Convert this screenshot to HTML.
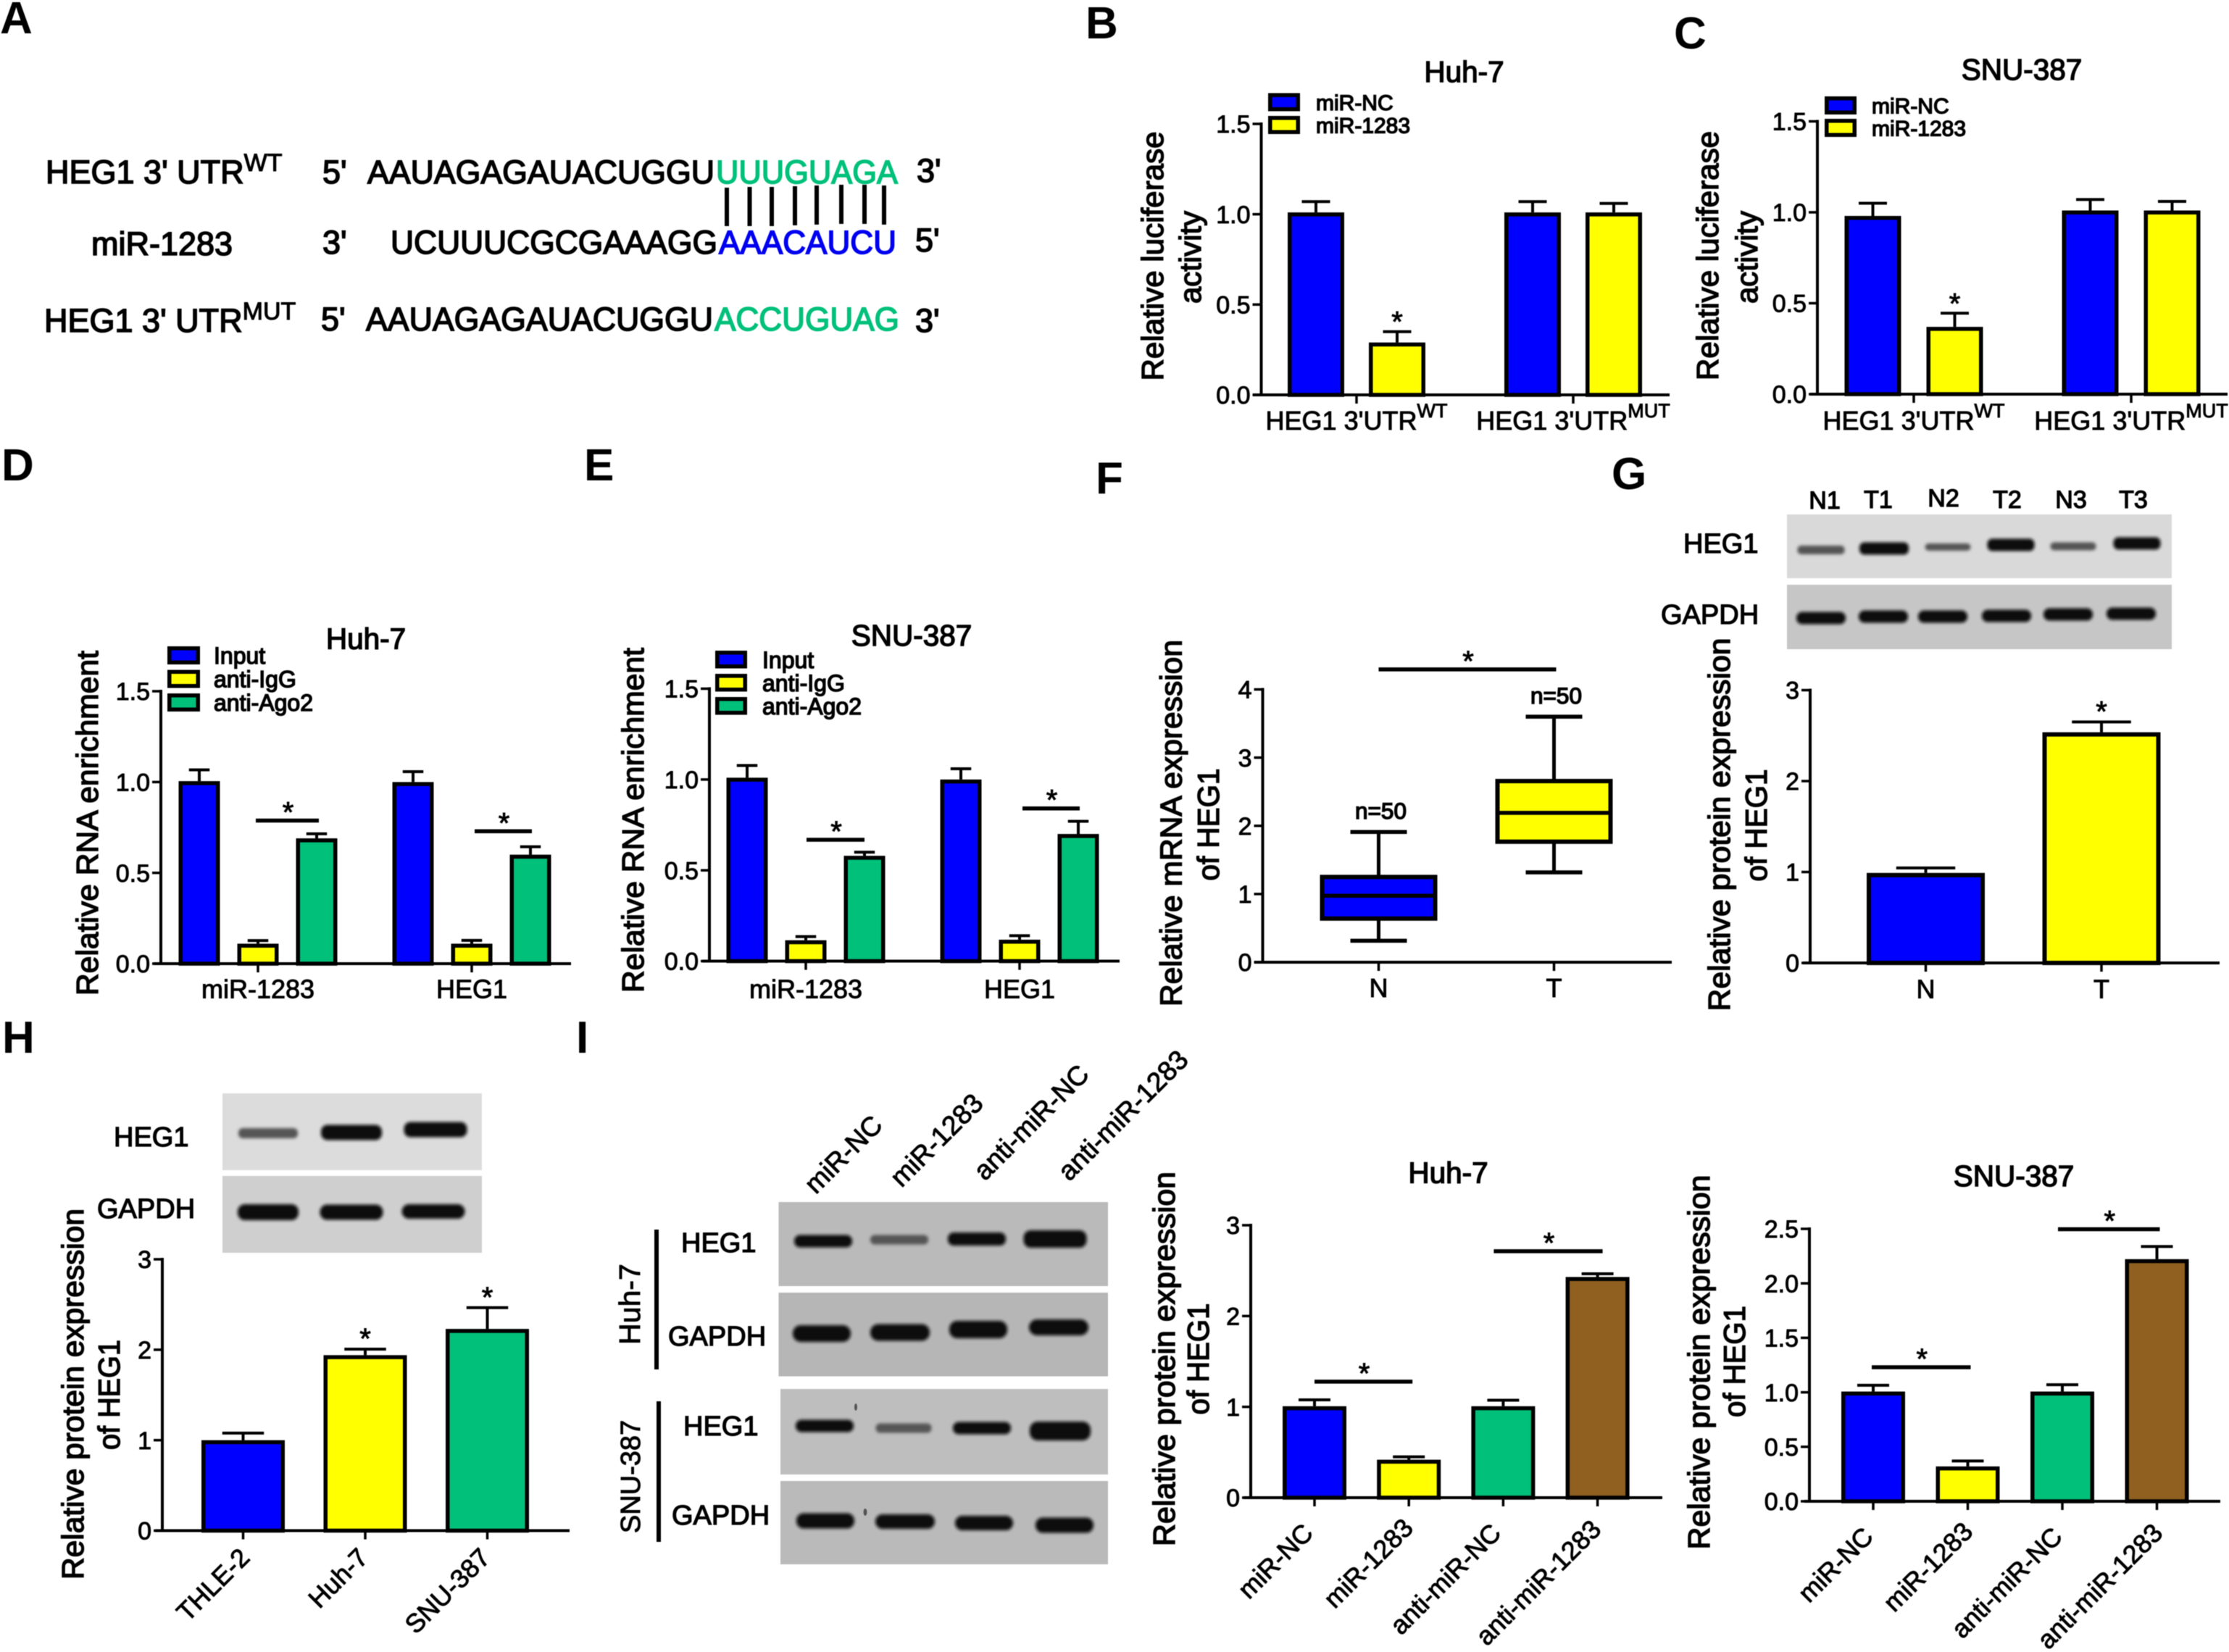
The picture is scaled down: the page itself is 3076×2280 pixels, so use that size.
<!DOCTYPE html>
<html lang="en">
<head>
<meta charset="utf-8">
<title>HEG1 and miR-1283 multi-panel figure</title>
<style>
html,body{margin:0;padding:0;background:#fff}
svg{display:block;filter:blur(.45px)}
text{font-family:"Liberation Sans",Arial,sans-serif;font-weight:normal;fill:#000;stroke:#000;stroke-width:.95px}
.b{fill:#0a0a0a;stroke:#0a0a0a;stroke-width:2px;filter:url(#bandblur)}
.l{fill:#555;stroke:#555;stroke-width:2px;filter:url(#bandblur)}
.letter{font-size:62px;font-weight:bold;stroke:none}
.seq{font-size:45px;stroke-width:1.6px}
.sup{font-size:34px;stroke-width:1.1px}
.blotlab{font-size:38px;stroke-width:1.3px}
.lane{font-size:34px;stroke-width:1.3px}
</style>
</head>
<body>
<svg id="figure" xmlns="http://www.w3.org/2000/svg" width="3076" height="2280" viewBox="0 0 3076 2280">
<defs>
<filter id="bandblur" x="-30%" y="-150%" width="160%" height="400%"><feGaussianBlur stdDeviation="2.2"/></filter>
</defs>
<rect width="3076" height="2280" fill="#fff"/>

<text class="letter" x="0" y="46">A</text>
<text class="letter" x="1498" y="53">B</text>
<text class="letter" x="2310" y="67">C</text>
<text class="letter" x="2" y="663">D</text>
<text class="letter" x="806" y="663">E</text>
<text class="letter" x="1512" y="681">F</text>
<text class="letter" x="2224" y="675">G</text>
<text class="letter" x="3" y="1453">H</text>
<text class="letter" x="795" y="1453">I</text>

<g>
<text class="seq" x="63" y="253">HEG1 3' UTR<tspan class="sup" dy="-17">WT</tspan></text>
<text class="seq" x="445" y="253">5'</text>
<text class="seq" x="507" y="253" textLength="479" lengthAdjust="spacingAndGlyphs">AAUAGAGAUACUGGU</text>
<text class="seq" x="988" y="253" textLength="251" lengthAdjust="spacingAndGlyphs" style="fill:#00c07a;stroke:#00c07a">UUUGUAGA</text>
<text class="seq" x="1265" y="251">3'</text>
<g stroke="#000" stroke-width="6">
<line x1="1003" y1="259" x2="1003" y2="312"/>
<line x1="1034.5" y1="258" x2="1034.5" y2="312"/>
<line x1="1065" y1="258" x2="1065" y2="312"/>
<line x1="1097" y1="257" x2="1097" y2="311"/>
<line x1="1127" y1="256" x2="1127" y2="310"/>
<line x1="1161" y1="255" x2="1161" y2="309"/>
<line x1="1193" y1="255" x2="1193" y2="309"/>
<line x1="1220" y1="256" x2="1220" y2="310"/>
</g>
<text class="seq" x="126" y="352">miR-1283</text>
<text class="seq" x="445" y="350">3'</text>
<text class="seq" x="539" y="350" textLength="451" lengthAdjust="spacingAndGlyphs">UCUUUCGCGAAAGG</text>
<text class="seq" x="992" y="350" textLength="245" lengthAdjust="spacingAndGlyphs" style="fill:#0000f0;stroke:#0000f0">AAACAUCU</text>
<text class="seq" x="1263" y="347">5'</text>
<text class="seq" x="61" y="458">HEG1 3' UTR<tspan class="sup" dy="-17">MUT</tspan></text>
<text class="seq" x="443" y="456">5'</text>
<text class="seq" x="505" y="456" textLength="479" lengthAdjust="spacingAndGlyphs">AAUAGAGAUACUGGU</text>
<text class="seq" x="986" y="456" textLength="255" lengthAdjust="spacingAndGlyphs" style="fill:#00c07a;stroke:#00c07a">ACCUGUAG</text>
<text class="seq" x="1263" y="458">3'</text>
</g>

<g>
<rect x="2466" y="710" width="531" height="88" fill="#d9d9d9"/>
<rect x="2466" y="807" width="531" height="89" fill="#c6c6c6"/>
<rect class="l" x="2481.5" y="754" width="63" height="10" rx="4"/>
<rect class="b" x="2567" y="749.5" width="66" height="15" rx="6"/>
<rect class="l" x="2657.5" y="751" width="61" height="8" rx="4"/>
<rect class="b" x="2743.5" y="744.5" width="63" height="15" rx="6"/>
<rect class="l" x="2830.5" y="749.5" width="61" height="9" rx="4"/>
<rect class="b" x="2917.5" y="742.5" width="63" height="15" rx="6"/>
<rect class="b" x="2480" y="845.5" width="66" height="15" rx="7"/>
<rect class="b" x="2566" y="843.5" width="66" height="15" rx="7"/>
<rect class="b" x="2648" y="843.5" width="66" height="15" rx="7"/>
<rect class="b" x="2736" y="842.5" width="66" height="15" rx="7"/>
<rect class="b" x="2821" y="840.5" width="66" height="15" rx="7"/>
<rect class="b" x="2908" y="839.5" width="66" height="15" rx="7"/>
<text class="lane" x="2518" y="702" text-anchor="middle">N1</text>
<text class="lane" x="2592" y="701" text-anchor="middle">T1</text>
<text class="lane" x="2682" y="699" text-anchor="middle">N2</text>
<text class="lane" x="2770" y="701" text-anchor="middle">T2</text>
<text class="lane" x="2858" y="701" text-anchor="middle">N3</text>
<text class="lane" x="2944" y="701" text-anchor="middle">T3</text>
<text class="blotlab" x="2323" y="763">HEG1</text>
<text class="blotlab" x="2292" y="861">GAPDH</text>
</g>

<g>
<rect x="307" y="1509" width="358" height="106" fill="#dcdcdc"/>
<rect x="307" y="1623" width="358" height="106" fill="#cfcfcf"/>
<rect class="l" x="330" y="1558" width="80" height="12" rx="5"/>
<rect class="b" x="444" y="1553.5" width="82" height="19" rx="8"/>
<rect class="b" x="558.5" y="1549.5" width="85" height="19" rx="8"/>
<rect class="b" x="329" y="1663" width="82" height="20" rx="9"/>
<rect class="b" x="442.5" y="1663.5" width="85" height="19" rx="9"/>
<rect class="b" x="555.5" y="1663" width="85" height="18" rx="9"/>
<text class="blotlab" x="157" y="1582">HEG1</text>
<text class="blotlab" x="134" y="1681">GAPDH</text>
</g>

<g>
<rect x="1074.5" y="1659" width="454.5" height="116" fill="#bababa"/>
<rect x="1074.5" y="1784" width="454.5" height="115.5" fill="#b6b6b6"/>
<rect x="1077" y="1917" width="452" height="118" fill="#bebebe"/>
<rect x="1077" y="2044" width="452" height="115" fill="#bababa"/>
<ellipse cx="1181" cy="1942" rx="2" ry="5" fill="#555"/>
<ellipse cx="1194" cy="2087" rx="2.5" ry="5" fill="#555"/>
<rect class="b" x="1097" y="1705.5" width="78" height="15" rx="7"/>
<rect class="l" x="1202" y="1705.5" width="78" height="11" rx="5"/>
<rect class="b" x="1309" y="1702" width="78" height="16" rx="7"/>
<rect class="b" x="1413.5" y="1699" width="85" height="22" rx="9"/>
<rect class="b" x="1095" y="1830" width="78" height="21" rx="10"/>
<rect class="b" x="1202" y="1828.5" width="80" height="21" rx="10"/>
<rect class="b" x="1311" y="1824" width="78" height="22" rx="10"/>
<rect class="b" x="1421" y="1822" width="80" height="20" rx="10"/>
<rect class="b" x="1099" y="1960.5" width="78" height="15" rx="7"/>
<rect class="l" x="1209.5" y="1965.5" width="75" height="11" rx="5"/>
<rect class="b" x="1316" y="1963.5" width="78" height="15" rx="7"/>
<rect class="b" x="1422" y="1963" width="82" height="24" rx="10"/>
<rect class="b" x="1100" y="2089.5" width="78" height="19" rx="9"/>
<rect class="b" x="1209" y="2091" width="80" height="18" rx="9"/>
<rect class="b" x="1319" y="2093" width="78" height="18" rx="9"/>
<rect class="b" x="1430" y="2095.5" width="78" height="19" rx="9"/>
<text class="blotlab" x="940" y="1728">HEG1</text>
<text class="blotlab" x="922" y="1857">GAPDH</text>
<text class="blotlab" x="943" y="1981">HEG1</text>
<text class="blotlab" x="927" y="2104">GAPDH</text>
<line x1="906" y1="1697" x2="906" y2="1890" stroke="#000" stroke-width="6"/>
<line x1="909" y1="1934" x2="909" y2="2128" stroke="#000" stroke-width="6"/>
<text transform="rotate(-90 883 1800)" x="883" y="1800" font-size="41" text-anchor="middle">Huh-7</text>
<text transform="rotate(-90 883 2038)" x="883" y="2038" font-size="38" text-anchor="middle">SNU-387</text>
<text transform="rotate(-45 1220 1555)" x="1220" y="1555" font-size="37.5" text-anchor="end">miR-NC</text>
<text transform="rotate(-45 1359 1525)" x="1359" y="1525" font-size="37.5" text-anchor="end">miR-1283</text>
<text transform="rotate(-45 1505 1485)" x="1505" y="1485" font-size="37.5" text-anchor="end">anti-miR-NC</text>
<text transform="rotate(-45 1642 1465)" x="1642" y="1465" font-size="37.5" text-anchor="end">anti-miR-1283</text>
</g>

<script>
// ---------- Panel B ----------
const panelBYTicks = ['0.0', '0.5', '1.0', '1.5'];
const panelBGroups = ["HEG1 3'UTR", "HEG1 3'UTR"];
const panelBGroupSup = ['WT', 'MUT'];
const panelBSeries = ['miR-NC', 'miR-1283'];
const panelBValues = [1.01, 0.29, 1.01, 1.01];
const panelBErrors = [0.06, 0.06, 0.06, 0.05];
const panelBStars = [1];
// ---------- Panel C ----------
const panelCYTicks = ['0.0', '0.5', '1.0', '1.5'];
const panelCGroups = ["HEG1 3'UTR", "HEG1 3'UTR"];
const panelCGroupSup = ['WT', 'MUT'];
const panelCSeries = ['miR-NC', 'miR-1283'];
const panelCValues = [0.98, 0.37, 1.01, 1.01];
const panelCErrors = [0.07, 0.075, 0.06, 0.05];
const panelCStars = [1];
// ---------- Panel D ----------
const panelDYTicks = ['0.0', '0.5', '1.0', '1.5'];
const panelDGroups = ['miR-1283', 'HEG1'];
const panelDSeries = ['Input', 'anti-IgG', 'anti-Ago2'];
const panelDValues = [1.005, 0.11, 0.69, 1.0, 0.11, 0.6];
const panelDErrors = [0.062, 0.017, 0.025, 0.057, 0.018, 0.044];
const panelDSigLevels = [0.788, 0.729];
// ---------- Panel E ----------
const panelEYTicks = ['0.0', '0.5', '1.0', '1.5'];
const panelEGroups = ['miR-1283', 'HEG1'];
const panelESeries = ['Input', 'anti-IgG', 'anti-Ago2'];
const panelEValues = [1.01, 0.115, 0.58, 1.0, 0.118, 0.7];
const panelEErrors = [0.067, 0.02, 0.02, 0.059, 0.022, 0.07];
const panelESigLevels = [0.668, 0.841];
// ---------- Panel F ----------
const panelFYTicks = ['0', '1', '2', '3', '4'];
const panelFCategories = ['N', 'T'];
const panelFMin = [0.315, 1.317];
const panelFQ1 = [0.64, 1.767];
const panelFMedian = [0.975, 2.19];
const panelFQ3 = [1.25, 2.656];
const panelFMax = [1.91, 3.6];
const panelFCounts = ['n=50', 'n=50'];
const panelFSigLevels = [4.293];
// ---------- Panel G ----------
const panelGYTicks = ['0', '1', '2', '3'];
const panelGCategories = ['N', 'T'];
const panelGValues = [0.99, 2.537];
const panelGErrors = [0.055, 0.113];
const panelGStars = [1];
// ---------- Panel H ----------
const panelHYTicks = ['0', '1', '2', '3'];
const panelHCategories = ['THLE-2', 'Huh-7', 'SNU-387'];
const panelHValues = [1.0, 1.94, 2.23];
const panelHErrors = [0.078, 0.067, 0.235];
const panelHStars = [1, 2];
// ---------- Panel I, Huh-7 ----------
const panelI1YTicks = ['0', '1', '2', '3'];
const panelI1Categories = ['miR-NC', 'miR-1283', 'anti-miR-NC', 'anti-miR-1283'];
const panelI1Values = [1.007, 0.418, 1.007, 2.43];
const panelI1Errors = [0.07, 0.032, 0.066, 0.035];
const panelI1SigLevels = [1.278, 2.714];
// ---------- Panel I, SNU-387 ----------
const panelI2YTicks = ['0.0', '0.5', '1.0', '1.5', '2.0', '2.5'];
const panelI2Categories = ['miR-NC', 'miR-1283', 'anti-miR-NC', 'anti-miR-1283'];
const panelI2Values = [1.007, 0.32, 1.007, 2.222];
const panelI2Errors = [0.058, 0.05, 0.063, 0.116];
const panelI2SigLevels = [1.23, 2.497];

const SVGNS = 'http://www.w3.org/2000/svg';
const figure = document.getElementById('figure');
const BLUE = '#0000ff', YELLOW = '#ffff00', GREEN = '#00c07a', BROWN = '#8f6020';

function shape(parent, tag, name, props) {
  const el = document.createElementNS(SVGNS, tag);
  
  
  for (const k in props) el.setAttribute(k, props[k]);
  parent.appendChild(el);
  return el;
}
function group(parent, name) {
  return shape(parent, 'g', name, {});
}
function line(parent, name, x1, y1, x2, y2, w) {
  return shape(parent, 'line', name, {x1: x1, y1: y1, x2: x2, y2: y2, stroke: '#000', 'stroke-width': w});
}
function label(parent, name, str, x, y, size, anchor, rotate, len) {
  const props = {x: x, y: y, 'font-size': size, 'text-anchor': anchor || 'start'};
  if (rotate) props.transform = 'rotate(' + rotate + ' ' + x + ' ' + y + ')';
  if (len) { props.textLength = len; props.lengthAdjust = 'spacingAndGlyphs'; }
  const el = shape(parent, 'text', name, props);
  el.textContent = str;
  return el;
}
function heavy(el) {
  el.style.strokeWidth = '1.45px';
  return el;
}
function makeAxes(parent, a) {
  const y = v => a.yZero - v / a.yMax * (a.yZero - a.yTop);
  const g = group(parent, 'axes');
  line(g, 'y-axis', a.yAxisX, a.yTop - 2, a.yAxisX, a.yZero + 2, 4);
  line(g, 'x-axis', a.xStart, a.yZero, a.xEnd, a.yZero, 4);
  a.yTicks.forEach(t => {
    const py = y(Number(t));
    line(g, 'y-tick-' + t, a.yAxisX - 12, py, a.yAxisX, py, 3.5);
    label(g, 'y-tick-label-' + t, t, a.yAxisX - 15, py + 12.2, 34, 'end');
  });
  return y;
}
function yTitle(parent, name, str, x, cy, len) {
  heavy(label(parent, name, str, x, cy, 42, 'middle', -90, len));
}
function chartTitle(parent, str, x, y) {
  heavy(label(parent, 'chart-title', str, x, y, 40.5, 'middle'));
}
function bar(parent, name, cx, w, value, err, color, y, sw) {
  const top = y(value), base = y(0);
  const g = group(parent, name);
  line(g, name + '-error-stem', cx, y(value + err), cx, top, 4);
  line(g, name + '-error-cap', cx - w / 4, y(value + err), cx + w / 4, y(value + err), 4);
  shape(g, 'rect', name + '-fill', {x: cx - w / 2 + sw / 2, y: top + sw / 2, width: w - sw, height: Math.max(0, base - top - sw / 2), fill: color, stroke: '#000', 'stroke-width': sw});
}
function star(parent, name, x, cy) {
  label(parent, name, '*', x, cy + 23, 40, 'middle');
}
function sigLine(parent, name, x1, x2, py) {
  line(parent, name, x1, py, x2, py, 5.5);
  star(parent, name + '-star', (x1 + x2) / 2 + 1, py - 21);
}
function legend(parent, labels, colors, x, y0, step, w, h, tx, size) {
  const g = group(parent, 'legend');
  labels.forEach((t, i) => {
    const e = group(g, 'legend-entry-' + t);
    shape(e, 'rect', 'legend-swatch', {x: x + 2.75, y: y0 + i * step + 2.75, width: w - 5.5, height: h - 5.5, fill: colors[i], stroke: '#000', 'stroke-width': 5.5});
    heavy(label(e, 'legend-label', t, tx, y0 + i * step + h / 2 + size * 0.36, size));
  });
}
function xCategory(parent, name, str, sup, x, y, size) {
  const el = label(parent, name, str, x, y, size, 'middle');
  if (sup) {
    const s = document.createElementNS(SVGNS, 'tspan');
    
    
    s.setAttribute('dy', '-17');
    s.setAttribute('font-size', '27');
    s.textContent = sup;
    el.appendChild(s);
  }
}
function rotatedCategory(parent, name, str, x, y, size) {
  label(parent, name, str, x, y, size, 'end', -45);
}
function drawSig(g, p, centers, y) {
  (p.sig || []).forEach((lv, i) => {
    const pair = p.sigPairs[i];
    const pad = p.sigPads ? p.sigPads[i] : [0, 0];
    sigLine(g, 'significance-line-' + i, centers[pair[0]] + pad[0], centers[pair[1]] + pad[1], y(lv));
  });
}

// Grouped bars: centres are derived from the group tick plus an offset per series.
function groupedPanel(p) {
  const g = group(figure, p.name);
  const y = makeAxes(g, p.axes);
  const n = p.series.length;
  const centers = [];
  p.groups.forEach((name, gi) => {
    const tick = p.firstTick + gi * p.groupStep;
    line(g, 'x-tick-' + gi, tick, p.axes.yZero, tick, p.axes.yZero + 12, 3.5);
    xCategory(g, 'x-label-' + gi, name, p.sup ? p.sup[gi] : null, tick, p.labelY, 36);
    p.series.forEach((s, si) => {
      const c = tick + (si - (n - 1) / 2) * p.barStep;
      centers.push(c);
      const idx = gi * n + si;
      bar(g, 'bar-' + name.replace(/[^A-Za-z0-9-]/g, '') + '-' + s, c, p.barW, p.values[idx], p.errors[idx], p.colors[si], y, 5.5);
    });
  });
  (p.stars || []).forEach(i => star(g, 'significance-star', centers[i], y(p.values[i] + p.errors[i]) - 23));
  drawSig(g, p, centers, y);
  return g;
}
// Single-series bars.
function simplePanel(p) {
  const g = group(figure, p.name);
  const y = makeAxes(g, p.axes);
  const centers = [];
  p.categories.forEach((name, i) => {
    const c = p.first + i * p.step;
    centers.push(c);
    line(g, 'x-tick-' + name, c, p.axes.yZero, c, p.axes.yZero + 12, 3.5);
    if (p.rotated) rotatedCategory(g, 'x-label-' + name, name, c + p.rotOffsets[i][0], p.labelY + p.rotOffsets[i][1], 36);
    else label(g, 'x-label-' + name, name, c, p.labelY, 36, 'middle');
    bar(g, 'bar-' + name, c, p.barW, p.values[i], p.errors[i], p.colors[i], y, p.sw || 5.5);
  });
  (p.stars || []).forEach(i => star(g, 'significance-star', centers[i], y(p.values[i] + p.errors[i]) - 24));
  drawSig(g, p, centers, y);
  return g;
}

// ----- B -----
const gB = groupedPanel({name: 'panel-b-chart', groups: panelBGroups, sup: panelBGroupSup, series: panelBSeries,
  values: panelBValues, errors: panelBErrors, colors: [BLUE, YELLOW], stars: panelBStars,
  firstTick: 1872, groupStep: 299, barStep: 112, barW: 78, labelY: 593,
  axes: {yAxisX: 1740.5, xStart: 1729, xEnd: 2304, yZero: 545, yTop: 171, yMax: 1.5, yTicks: panelBYTicks}});
legend(gB, panelBSeries, [BLUE, YELLOW], 1750, 128.5, 31.5, 44, 25, 1816, 30);
chartTitle(gB, 'Huh-7', 2020.5, 113);
yTitle(gB, 'y-axis-title-line-1', 'Relative luciferase', 1605, 353.5, 344);
yTitle(gB, 'y-axis-title-line-2', 'activity', 1657, 355, 128);

// ----- C -----
const gC = groupedPanel({name: 'panel-c-chart', groups: panelCGroups, sup: panelCGroupSup, series: panelCSeries,
  values: panelCValues, errors: panelCErrors, colors: [BLUE, YELLOW], stars: panelCStars,
  firstTick: 2641, groupStep: 300, barStep: 113, barW: 78, labelY: 593,
  axes: {yAxisX: 2508, xStart: 2498, xEnd: 3074, yZero: 544, yTop: 167.5, yMax: 1.5, yTicks: panelCYTicks}});
legend(gC, panelCSeries, [BLUE, YELLOW], 2518, 133, 31, 44, 25, 2583, 30);
chartTitle(gC, 'SNU-387', 2790, 110);
yTitle(gC, 'y-axis-title-line-1', 'Relative luciferase', 2371, 353, 344);
yTitle(gC, 'y-axis-title-line-2', 'activity', 2425, 355, 128);

// ----- D -----
const gD = groupedPanel({name: 'panel-d-chart', groups: panelDGroups, series: panelDSeries,
  values: panelDValues, errors: panelDErrors, colors: [BLUE, YELLOW, GREEN],
  sig: panelDSigLevels, sigPairs: [[1, 2], [4, 5]], sigPads: [[-3, 3], [4, 2]],
  firstTick: 356, groupStep: 295, barStep: 81, barW: 57, labelY: 1377.5,
  axes: {yAxisX: 222, xStart: 212, xEnd: 788, yZero: 1330, yTop: 954, yMax: 1.5, yTicks: panelDYTicks}});
legend(gD, panelDSeries, [BLUE, YELLOW, GREEN], 231, 892, 32.5, 45, 25, 295, 32);
chartTitle(gD, 'Huh-7', 505, 895.5);
yTitle(gD, 'y-axis-title', 'Relative RNA enrichment', 135, 1136, 476);

// ----- E -----
const gE = groupedPanel({name: 'panel-e-chart', groups: panelEGroups, series: panelESeries,
  values: panelEValues, errors: panelEErrors, colors: [BLUE, YELLOW, GREEN],
  sig: panelESigLevels, sigPairs: [[1, 2], [4, 5]], sigPads: [[1, 0], [4, 2]],
  firstTick: 1112, groupStep: 295, barStep: 81, barW: 57, labelY: 1377.5,
  axes: {yAxisX: 979, xStart: 969, xEnd: 1545, yZero: 1326.5, yTop: 950.5, yMax: 1.5, yTicks: panelEYTicks}});
legend(gE, panelESeries, [BLUE, YELLOW, GREEN], 987, 898, 32, 44, 24.5, 1052, 32);
chartTitle(gE, 'SNU-387', 1258, 891);
yTitle(gE, 'y-axis-title', 'Relative RNA enrichment', 888, 1132, 476);

// ----- F (box plot) -----
(function () {
  const g = group(figure, 'panel-f-chart');
  const a = {yAxisX: 1742.5, xStart: 1731, xEnd: 2307, yZero: 1328, yTop: 951.5, yMax: 4, yTicks: panelFYTicks};
  const y = makeAxes(g, a);
  const first = 1902.5, step = 242, boxW = 162, capW = 78;
  const colors = [BLUE, YELLOW];
  const centers = [];
  panelFCategories.forEach((name, i) => {
    const c = first + i * step;
    centers.push(c);
    line(g, 'x-tick-' + name, c, a.yZero, c, a.yZero + 12, 3.5);
    label(g, 'x-label-' + name, name, c, 1376, 36, 'middle');
    const b = group(g, 'box-' + name);
    line(b, 'whisker-' + name, c, y(panelFMin[i]), c, y(panelFMax[i]), 5);
    line(b, 'whisker-cap-max-' + name, c - capW / 2, y(panelFMax[i]), c + capW / 2, y(panelFMax[i]), 5.5);
    line(b, 'whisker-cap-min-' + name, c - capW / 2, y(panelFMin[i]), c + capW / 2, y(panelFMin[i]), 5.5);
    shape(b, 'rect', 'iqr-box-' + name, {x: c - boxW / 2 + 3, y: y(panelFQ3[i]), width: boxW - 6, height: y(panelFQ1[i]) - y(panelFQ3[i]), fill: colors[i], stroke: '#000', 'stroke-width': 6});
    line(b, 'median-' + name, c - boxW / 2, y(panelFMedian[i]), c + boxW / 2, y(panelFMedian[i]), 5.5);
    heavy(label(b, 'sample-count-' + name, panelFCounts[i], c + 3, y(panelFMax[i]) - 18, 31.5, 'middle'));
  });
  sigLine(g, 'significance-line', centers[0], centers[1] + 3, y(panelFSigLevels[0]));
  yTitle(g, 'y-axis-title-line-1', 'Relative mRNA expression', 1630.5, 1136, 506);
  yTitle(g, 'y-axis-title-line-2', 'of HEG1', 1682, 1138, 155);
})();

// ----- G -----
const gG = simplePanel({name: 'panel-g-chart', categories: panelGCategories, values: panelGValues, errors: panelGErrors,
  colors: [BLUE, YELLOW], stars: panelGStars, first: 2657.5, step: 242.5, barW: 163, labelY: 1377.5, sw: 6,
  axes: {yAxisX: 2498, xStart: 2488, xEnd: 3063, yZero: 1329, yTop: 952.5, yMax: 3, yTicks: panelGYTicks}});
yTitle(gG, 'y-axis-title-line-1', 'Relative protein expression', 2387, 1138, 515);
yTitle(gG, 'y-axis-title-line-2', 'of HEG1', 2438, 1139, 155);

// ----- H -----
const gH = simplePanel({name: 'panel-h-chart', categories: panelHCategories, values: panelHValues, errors: panelHErrors,
  colors: [BLUE, YELLOW, GREEN], stars: panelHStars, first: 335.5, step: 168.5, barW: 115,
  rotated: true, rotOffsets: [[11, 0], [6, 0], [6, 0]], labelY: 2152,
  axes: {yAxisX: 224, xStart: 214, xEnd: 786, yZero: 2112.5, yTop: 1738, yMax: 3, yTicks: panelHYTicks}});
yTitle(gH, 'y-axis-title-line-1', 'Relative protein expression', 115, 1924, 512);
yTitle(gH, 'y-axis-title-line-2', 'of HEG1', 165, 1925, 152);

// ----- I Huh-7 -----
const gI1 = simplePanel({name: 'panel-i-huh7-chart', categories: panelI1Categories, values: panelI1Values, errors: panelI1Errors,
  colors: [BLUE, YELLOW, GREEN, BROWN], sig: panelI1SigLevels, sigPairs: [[0, 1], [2, 3]], sigPads: [[0, 5], [-13, 7]],
  first: 1814, step: 130.2, barW: 88, rotated: true, rotOffsets: [[0, 0], [8, -7], [-1, 0], [7, -5]], labelY: 2118,
  axes: {yAxisX: 1726, xStart: 1716, xEnd: 2294, yZero: 2067, yTop: 1691, yMax: 3, yTicks: panelI1YTicks}});
chartTitle(gI1, 'Huh-7', 1998.5, 1632.5);
yTitle(gI1, 'y-axis-title-line-1', 'Relative protein expression', 1621, 1875.5, 517);
yTitle(gI1, 'y-axis-title-line-2', 'of HEG1', 1668, 1875.5, 154);

// ----- I SNU-387 -----
const gI2 = simplePanel({name: 'panel-i-snu387-chart', categories: panelI2Categories, values: panelI2Values, errors: panelI2Errors,
  colors: [BLUE, YELLOW, GREEN, BROWN], sig: panelI2SigLevels, sigPairs: [[0, 1], [2, 3]], sigPads: [[-2, 4], [-6, 4]],
  first: 2585, step: 130.5, barW: 88, rotated: true, rotOffsets: [[2, 0], [9, -7], [2, 0], [10, -5]], labelY: 2123,
  axes: {yAxisX: 2497, xStart: 2490, xEnd: 3064, yZero: 2072, yTop: 1696, yMax: 2.5, yTicks: panelI2YTicks}});
chartTitle(gI2, 'SNU-387', 2779, 1637);
yTitle(gI2, 'y-axis-title-line-1', 'Relative protein expression', 2359, 1880, 517);
yTitle(gI2, 'y-axis-title-line-2', 'of HEG1', 2408, 1879, 154);
</script>
</svg>
</body>
</html>
